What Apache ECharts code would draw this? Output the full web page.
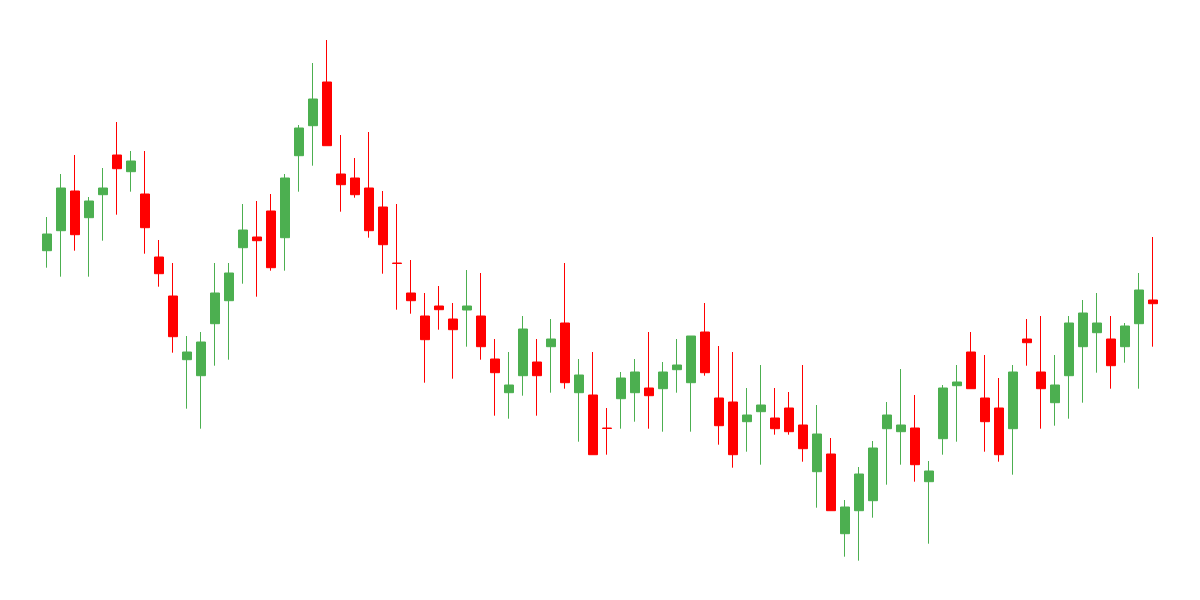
<!DOCTYPE html>
<html>
<head>
<meta charset="utf-8">
<script src="https://cdn.jsdelivr.net/npm/echarts@6/dist/echarts.min.js"></script>
<style>html,body{margin:0;padding:0;background:#fff}#c{width:1200px;height:600px}</style>
</head>
<body>
<div id="c"></div>
<script>
// [open, close, low, high]
const opens  = [34.93,36.93,40.90,38.23,40.53,44.50,42.83,40.60,34.30,30.40,
                24.03,22.43,27.63,29.93,35.23,36.30,38.90,36.23,44.43,47.43,
                51.80,42.60,42.20,41.20,39.30,33.70,30.70,28.40,29.40,28.10,
                29.00,28.40,24.10,20.73,22.43,23.80,25.33,27.70,20.73,20.50,
                17.20,20.13,20.73,21.20,21.13,23.03,21.73,26.80,20.20,19.80,
                17.83,18.83,18.20,19.20,17.50,12.83,14.60,6.63,8.93,9.93,
                17.13,16.83,17.20,11.83,16.13,21.43,24.80,20.20,19.20,17.13,
                26.10,22.80,19.73,22.43,25.33,26.73,26.10,25.33,27.63,30.00];
const closes = [36.60,41.20,36.53,39.90,41.20,43.13,43.90,37.23,32.63,26.33,
                24.80,25.80,30.70,32.70,37.00,35.93,33.23,42.20,47.20,50.10,
                45.43,41.53,40.53,36.93,35.53,33.65,29.93,26.03,29.03,27.03,
                29.40,25.33,22.73,21.50,27.10,22.43,26.10,21.73,22.50,14.53,
                17.15,22.20,22.80,20.43,22.80,23.50,26.40,22.73,17.43,14.53,
                18.50,19.50,17.13,16.83,15.13,16.60,8.93,9.30,12.60,15.20,
                18.50,17.50,13.53,12.90,21.20,21.80,21.13,17.83,14.53,22.80,
                25.73,21.13,21.50,27.70,28.70,27.70,23.43,27.40,31.00,29.63];
const lows   = [33.23,32.33,34.93,32.33,35.93,38.53,40.83,34.63,31.33,24.73,
                19.13,17.13,23.43,24.03,31.63,30.33,32.93,32.93,40.83,43.43,
                45.43,38.83,40.23,36.23,32.63,29.03,28.63,21.73,27.03,22.13,
                25.33,24.03,18.43,18.13,20.43,18.43,20.73,21.13,15.83,14.53,
                14.53,17.13,17.83,17.13,16.83,20.73,16.83,22.43,15.53,13.23,
                14.83,13.53,16.53,16.53,13.83,9.23,8.93,4.33,3.93,8.23,
                11.53,13.53,11.83,5.63,14.53,15.83,21.13,14.83,13.83,12.53,
                23.43,17.13,17.43,18.13,19.73,22.73,21.13,23.73,21.13,25.33];
const highs  = [38.30,42.60,44.50,40.30,43.20,47.80,44.90,44.90,36.00,33.70,
                26.40,26.80,33.70,33.70,39.60,39.90,40.60,42.60,47.50,53.70,
                56.00,46.50,44.20,46.80,40.90,39.60,34.00,30.70,31.40,29.70,
                33.00,32.70,26.10,24.80,28.40,26.10,28.10,33.70,24.10,24.80,
                19.20,22.80,24.10,26.80,23.80,26.10,26.40,29.70,25.40,24.80,
                21.20,23.50,21.20,20.80,23.50,19.50,16.20,10.00,13.30,15.90,
                19.80,23.10,20.50,13.90,21.50,23.50,26.80,24.50,22.20,23.50,
                28.10,28.40,24.50,28.40,30.00,30.70,28.40,27.70,32.70,36.30];
const categories = opens.map((_, i) => 'Day ' + (i + 1));

const data = opens.map((o, i) => [o, closes[i], lows[i], highs[i]]);

const chart = echarts.init(document.getElementById('c'));
chart.setOption({
  animation: false,
  backgroundColor: '#ffffff',
  grid: { left: 40, right: 40, top: 0, bottom: 0 },
  xAxis: { type: 'category', data: categories, show: false, boundaryGap: true },
  yAxis: { type: 'value', min: 0, max: 60, show: false },
  series: [{
    type: 'candlestick',
    data: data,
    barWidth: 10,
    itemStyle: {
      color: '#4caf50',
      color0: '#ff0000',
      borderColor: '#4caf50',
      borderColor0: '#ff0000',
      borderWidth: 1
    }
  }]
});
</script>
</body>
</html>
